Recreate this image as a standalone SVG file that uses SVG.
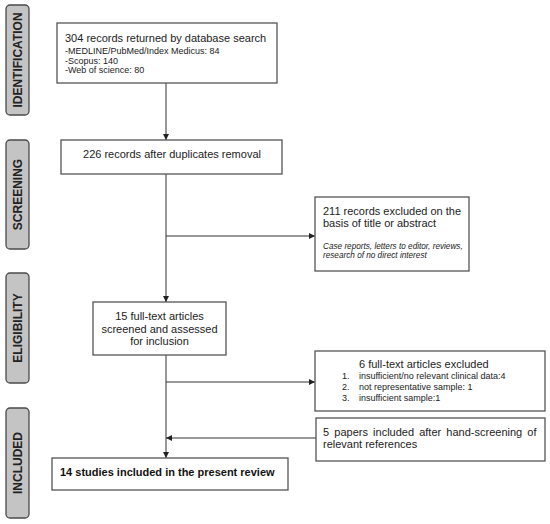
<svg xmlns="http://www.w3.org/2000/svg" width="550" height="524" viewBox="0 0 550 524">
<style>
.bg{fill:#fff}
.phase rect{fill:#c4c4c4;stroke:#4a4a4a;stroke-width:1.3}
.phase text{font-family:"Liberation Sans",Arial,sans-serif;font-weight:bold;font-size:12px;fill:#222;text-anchor:middle}
.box rect{fill:#fff;stroke:#555;stroke-width:1.3}
.t{font-family:"Liberation Sans",Arial,sans-serif;font-size:11px;fill:#222}
.s{font-family:"Liberation Sans",Arial,sans-serif;font-size:9px;fill:#222}
.i{font-family:"Liberation Sans",Arial,sans-serif;font-size:8.2px;font-style:italic;fill:#222}
.b{font-family:"Liberation Sans",Arial,sans-serif;font-size:11px;font-weight:bold;fill:#111}
.c{text-anchor:middle}
#connectors path{fill:none;stroke:#333;stroke-width:1}
</style>
<defs>
<marker id="ah" viewBox="0 0 6 6" refX="6" refY="3" markerWidth="6" markerHeight="6" markerUnits="userSpaceOnUse" orient="auto">
<path d="M0,0 L6,3 L0,6 z" fill="#222"/>
</marker>
</defs>
<rect class="bg" x="0" y="0" width="550" height="524"/>

<g id="phase-identification" class="phase">
<rect x="6" y="5" width="23" height="110" rx="4"/>
<text transform="translate(22 60) rotate(-90)">IDENTIFICATION</text>
</g>
<g id="phase-screening" class="phase">
<rect x="6" y="140" width="23" height="109" rx="4"/>
<text transform="translate(22 194.5) rotate(-90)">SCREENING</text>
</g>
<g id="phase-eligibility" class="phase">
<rect x="6" y="273" width="23" height="110" rx="4"/>
<text transform="translate(22 328) rotate(-90)">ELIGIBILITY</text>
</g>
<g id="phase-included" class="phase">
<rect x="6" y="408" width="23" height="110" rx="4"/>
<text transform="translate(22 463) rotate(-90)">INCLUDED</text>
</g>

<g id="connectors">
<path d="M166,83 V140" marker-end="url(#ah)"/>
<path d="M166,174 V302" marker-end="url(#ah)"/>
<path d="M166,236 H315" marker-end="url(#ah)"/>
<path d="M166,355 V458" marker-end="url(#ah)"/>
<path d="M166,382 H315" marker-end="url(#ah)"/>
<path d="M316,438 H166" marker-end="url(#ah)"/>
</g>

<g id="n-records" class="box">
<rect x="57" y="23" width="220" height="60"/>
<text class="t" x="65" y="42">304 records returned by database search</text>
<text class="s" x="65" y="54">-MEDLINE/PubMed/Index Medicus: 84</text>
<text class="s" x="65" y="63.5">-Scopus: 140</text>
<text class="s" x="65" y="73">-Web of science: 80</text>
</g>

<g id="n-dedup" class="box">
<rect x="61" y="140" width="221" height="34"/>
<text class="t c" x="172" y="158">226 records after duplicates removal</text>
</g>

<g id="n-excluded-title" class="box">
<rect x="315" y="197" width="154" height="74"/>
<text class="t" x="323" y="215">211 records excluded on the</text>
<text class="t" x="323" y="227">basis of title or abstract</text>
<text class="i" x="323" y="249">Case reports, letters to editor, reviews,</text>
<text class="i" x="323" y="258">research of no direct interest</text>
</g>

<g id="n-fulltext" class="box">
<rect x="93" y="302" width="133" height="53"/>
<text class="t c" x="159.5" y="320">15 full-text articles</text>
<text class="t c" x="159.5" y="333">screened and assessed</text>
<text class="t c" x="159.5" y="345">for inclusion</text>
</g>

<g id="n-excluded-fulltext" class="box">
<rect x="315" y="351" width="230" height="60"/>
<text class="t" x="359" y="368">6 full-text articles excluded</text>
<text class="s" x="342" y="379">1.</text>
<text class="s" x="359" y="379">insufficient/no relevant clinical data:4</text>
<text class="s" x="342" y="390">2.</text>
<text class="s" x="359" y="390">not representative sample: 1</text>
<text class="s" x="342" y="401">3.</text>
<text class="s" x="359" y="401">insufficient sample:1</text>
</g>

<g id="n-hand" class="box">
<rect x="316" y="418" width="229" height="43"/>
<text class="t" x="323" y="436" word-spacing="2.1">5 papers included after hand-screening of</text>
<text class="t" x="323" y="448">relevant references</text>
</g>

<g id="n-included" class="box">
<rect x="52" y="458" width="236" height="32"/>
<text class="b" x="60" y="476">14 studies included in the present review</text>
</g>
</svg>
